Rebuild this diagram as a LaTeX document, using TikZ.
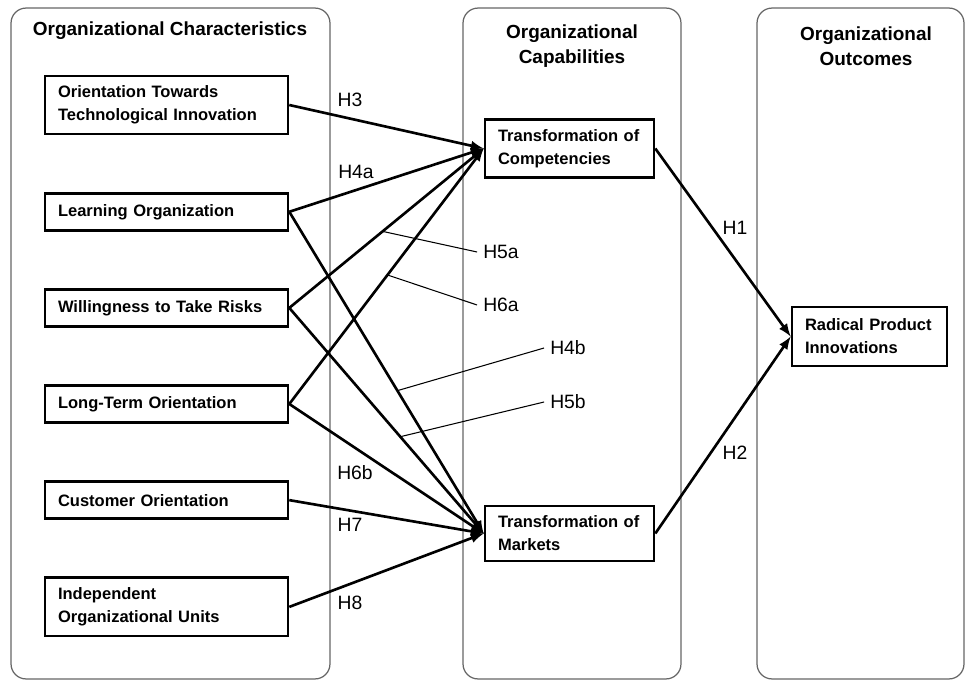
\documentclass[tikz,border=0pt]{standalone}
\usepackage{fontspec}
\setmainfont{Liberation Sans}
\usetikzlibrary{positioning}

\begin{document}
\begin{tikzpicture}[x=0.02cm, y=-0.02cm, >=latex,
    panel/.style={draw=black!60, line width=0.7pt, rounded corners=0.3cm, minimum height=13.42cm},
    head/.style={align=center, font=\bfseries\fontsize{10.8}{14}\selectfont},
    factor/.style={draw, line width=1.5pt, align=left, inner xsep=0.26cm, inner ysep=0.2cm, minimum height=0.74cm, font=\bfseries\fontsize{9.4}{13}\selectfont},
    hyp/.style={font=\fontsize{11}{13}\selectfont},
    link/.style={->, line width=1.5pt},
    leader/.style={line width=0.6pt}]

\useasboundingbox (0,0) rectangle (967,682);

% panels
\node[panel, minimum width=6.38cm] (charpanel) at (170.5,343.5) {};
\node[panel, minimum width=4.36cm] (cappanel) at (572,343.5) {};
\node[panel, minimum width=4.14cm] (outpanel) at (860.5,343.5) {};

\node[head] (chartitle) at (170,31) {Organizational Characteristics};
\node[head] (captitle) at (572,46) {Organizational\\Capabilities};
\node[head] (outtitle) at (866,46) {Organizational\\Outcomes};

% characteristics
\begin{scope}[text width=4.34cm]
    \node[factor] (techorient) at (166.5,105) {Orientation Towards\\Technological Innovation};
    \node[factor, below=1.13cm of techorient] (learnorg) {Learning Organization};
    \node[factor, below=1.13cm of learnorg] (risks) {Willingness to Take Risks};
    \node[factor, below=1.13cm of risks] (longterm) {Long-Term Orientation};
    \node[factor, below=1.13cm of longterm] (customer) {Customer Orientation};
    \node[factor, below=1.13cm of customer] (indunits) {Independent\\Organizational Units};
\end{scope}

% capabilities and outcome
\begin{scope}[minimum height=1.22cm]
    \node[factor, text width=2.86cm] (compet) at (569.5,148.5) {Transformation of\\Competencies};
    \node[factor, text width=2.86cm] (markets) at (569.5,533.5) {Transformation of\\Markets};
\end{scope}
\node[factor, text width=2.58cm, minimum height=1.18cm] (radical) at (869.5,336.5) {Radical Product\\Innovations};

\node[hyp] (h3) at (350,100) {H3};
\node[hyp] (h4a) at (356,172) {H4a};
\node[hyp] (h5a) at (501,252) {H5a};
\node[hyp] (h6a) at (501,305) {H6a};
\node[hyp] (h4b) at (568,348) {H4b};
\node[hyp] (h5b) at (568,402) {H5b};
\node[hyp] (h6b) at (355,473) {H6b};
\node[hyp] (h7) at (350,525) {H7};
\node[hyp] (h8) at (350,603) {H8};
\node[hyp] (h1) at (735,228) {H1};
\node[hyp] (h2) at (735,453) {H2};

\draw[link] (techorient.east) -- (compet.west);
\draw[link] (learnorg.east) -- (compet.west);
\draw[link] (risks.east) -- coordinate[pos=0.48] (p5a) (compet.west);
\draw[link] (longterm.east) -- coordinate[pos=0.505] (p6a) (compet.west);

\draw[link] (learnorg.east) -- coordinate[pos=0.556] (p4b) (markets.west);
\draw[link] (risks.east) -- coordinate[pos=0.571] (p5b) (markets.west);
\draw[link] (longterm.east) -- (markets.west);
\draw[link] (customer.east) -- (markets.west);
\draw[link] (indunits.east) -- (markets.west);

\draw[link] (compet.east) -- (radical.west);
\draw[link] (markets.east) -- (radical.west);

\draw[leader] (p5a) -- (h5a.west);
\draw[leader] (p6a) -- (h6a.west);
\draw[leader] (p4b) -- (h4b.west);
\draw[leader] (p5b) -- (h5b.west);

\end{tikzpicture}
\end{document}
